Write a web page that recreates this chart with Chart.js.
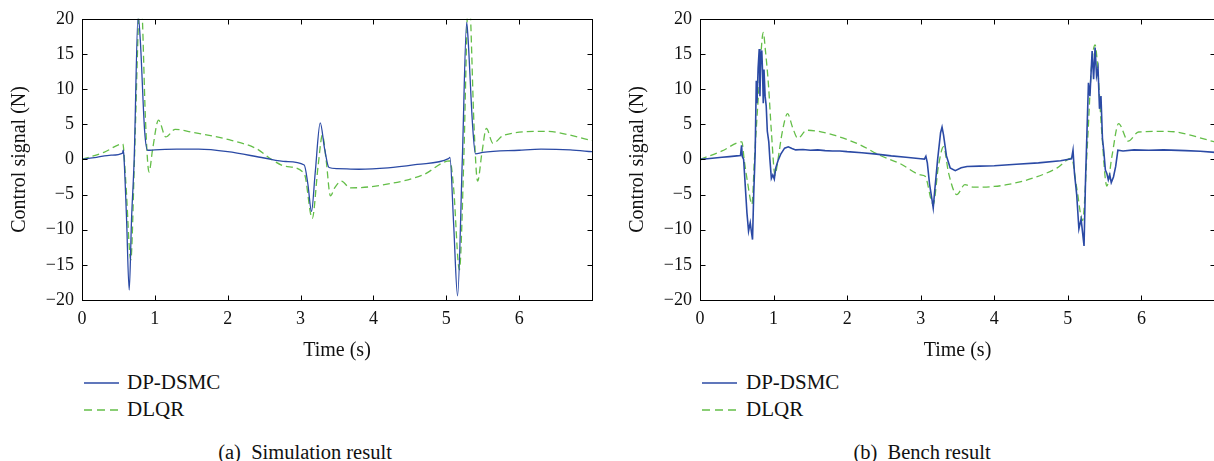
<!DOCTYPE html>
<html><head><meta charset="utf-8">
<script src="https://cdn.jsdelivr.net/npm/chart.js@4.4.1/dist/chart.umd.min.js"></script>
<style>
html,body{margin:0;padding:0;background:#fff;width:1214px;height:461px;overflow:hidden;position:relative;font-family:'Liberation Serif',serif;color:#111}
canvas{position:absolute;top:0}
.leg{position:absolute;font-size:21px;line-height:21px;white-space:pre}
.cap{position:absolute;font-size:20.5px;line-height:20px;white-space:pre;width:400px;text-align:center}
svg{position:absolute;overflow:visible}
</style></head><body>
<canvas id="c1" width="600" height="365" style="left:0px"></canvas>
<canvas id="c2" width="606" height="365" style="left:618px"></canvas>

<svg style="left:84px;top:382px" width="36" height="2"><line x1="0" y1="1" x2="35" y2="1" stroke="#2b4aa5" stroke-width="1.3"/></svg>
<div class="leg" style="left:127px;top:372px">DP-DSMC</div>
<svg style="left:84px;top:409px" width="36" height="2"><line x1="0" y1="1" x2="35" y2="1" stroke="#64be48" stroke-width="1.3" stroke-dasharray="8,5"/></svg>
<div class="leg" style="left:127px;top:399px">DLQR</div>
<div class="cap" style="left:105px;top:442px">(a)  Simulation result</div>

<svg style="left:702px;top:382px" width="36" height="2"><line x1="0" y1="1" x2="35" y2="1" stroke="#2b4aa5" stroke-width="1.3"/></svg>
<div class="leg" style="left:746px;top:372px">DP-DSMC</div>
<svg style="left:702px;top:409px" width="36" height="2"><line x1="0" y1="1" x2="35" y2="1" stroke="#64be48" stroke-width="1.3" stroke-dasharray="8,5"/></svg>
<div class="leg" style="left:746px;top:399px">DLQR</div>
<div class="cap" style="left:722px;top:442px">(b)  Bench result</div>

<script>
// ---- data: [time (s), control signal (N)] ----
const xTicks = [0, 1, 2, 3, 4, 5, 6, 7];
const yTicks = [-20, -15, -10, -5, 0, 5, 10, 15, 20];
const seriesNames = ['DP-DSMC', 'DLQR'];

const simDSMC = [[0,0],[0.2,0.3],[0.4,0.6],[0.557,0.9],[0.565,1.3],[0.575,0.5],[0.61,-8],[0.648,-18.6],[0.68,-8.5],[0.716,0],[0.77,20.5],[0.8,17],[0.86,4],[0.9,1.3],[1.0,1.35],[1.3,1.45],[1.6,1.45],[2.0,1.1],[2.5,0.2],[2.8,-0.3],[3.05,-0.8],[3.1,-3.5],[3.15,-7.4],[3.2,-2],[3.27,5.2],[3.33,1.5],[3.39,-1.15],[3.5,-1.3],[3.8,-1.4],[4.2,-1.2],[4.6,-0.7],[5.03,0.1],[5.05,0.3],[5.1,-9],[5.155,-19.4],[5.22,0],[5.28,19.5],[5.3,17],[5.36,5],[5.40,0.8],[5.5,1.0],[6.0,1.3],[6.3,1.45],[6.7,1.35],[7.0,1.1]];

const simDLQR = [[0,0],[0.3,1.0],[0.56,2.2],[0.6,-3],[0.67,-14.3],[0.72,0],[0.78,21],[0.8,24],[0.825,21],[0.87,6],[0.92,-1.8],[0.97,1.5],[1.05,5.6],[1.15,3.2],[1.28,4.28],[1.5,3.9],[2.05,2.7],[2.4,1.5],[2.6,0],[2.8,-1.0],[3.05,-2.0],[3.16,-8.4],[3.24,-1],[3.3,3.45],[3.35,0],[3.41,-5.2],[3.47,-4.0],[3.56,-3.1],[3.68,-4.05],[4.09,-3.7],[4.68,-2.2],[5.05,-0.2],[5.1,-4],[5.18,-15.7],[5.24,0],[5.29,21],[5.31,24],[5.33,21],[5.38,5],[5.43,-3.1],[5.49,1],[5.55,4.4],[5.64,2.3],[5.79,3.45],[6.35,4.0],[7.0,2.7]];

const benchDSMC = [[0,0],[0.1,0.1],[0.2,0.2],[0.3,0.3],[0.4,0.4],[0.5,0.5],[0.55,0.55],[0.565,2.0],[0.575,0.4],[0.593,0],[0.638,-7.6],[0.66,-10.2],[0.683,-9.0],[0.70,-10.4],[0.714,-11.4],[0.73,-5],[0.75,1],[0.765,11.2],[0.775,8],[0.79,13],[0.805,15.7],[0.815,9],[0.825,14],[0.84,15.5],[0.85,12.5],[0.86,8],[0.87,12.8],[0.885,9],[0.9,7.6],[0.915,4],[0.935,2.5],[0.95,0],[0.97,-2.7],[0.99,-2.2],[1.01,-2.8],[1.03,-1.2],[1.06,-0.2],[1.1,0.8],[1.15,1.6],[1.2,1.8],[1.25,1.55],[1.3,1.35],[1.4,1.4],[1.5,1.3],[1.6,1.35],[1.7,1.25],[1.8,1.2],[1.9,1.2],[2.0,1.1],[2.2,0.95],[2.4,0.75],[2.6,0.5],[2.8,0.3],[3.0,0.1],[3.05,0.05],[3.07,0.45],[3.09,-0.5],[3.12,-3.5],[3.15,-5.5],[3.17,-6.9],[3.19,-4.5],[3.23,0],[3.27,3.8],[3.29,4.6],[3.31,3.5],[3.35,0.5],[3.4,-1.2],[3.47,-1.6],[3.55,-1.2],[3.63,-1.0],[3.8,-0.95],[4.0,-0.9],[4.3,-0.7],[4.6,-0.5],[4.9,-0.2],[5.05,0.07],[5.07,1.3],[5.09,-2],[5.12,-5],[5.15,-9.9],[5.18,-8.5],[5.22,-12.3],[5.24,-3],[5.26,4],[5.28,10.9],[5.3,9],[5.33,15.4],[5.35,11.4],[5.37,15.9],[5.39,11.9],[5.41,13],[5.43,7.2],[5.45,9],[5.47,3],[5.49,1],[5.51,-1.5],[5.53,-2.0],[5.55,-2.9],[5.57,-2.2],[5.59,-3.3],[5.62,-2.5],[5.65,-1],[5.68,1.3],[5.75,1.2],[5.9,1.35],[6.1,1.3],[6.3,1.35],[6.6,1.25],[6.8,1.15],[7.0,1.0]];

const benchDLQR = [[0,0],[0.3,1.2],[0.57,2.5],[0.6,0],[0.65,-3.5],[0.706,-6.4],[0.74,0],[0.8,10],[0.86,18.05],[0.89,15.4],[0.93,10.7],[0.97,4],[1.02,-2.2],[1.06,0],[1.12,4],[1.19,6.5],[1.26,4.5],[1.33,3.0],[1.45,4.15],[1.82,3.45],[2.18,2.05],[2.45,0.55],[2.72,-0.6],[3.0,-2.2],[3.06,-2.4],[3.17,-6.4],[3.24,-1],[3.31,1.8],[3.38,-2],[3.49,-5.0],[3.6,-3.6],[3.72,-3.95],[4.0,-3.85],[4.17,-3.6],[4.53,-2.65],[4.85,-1.24],[5.05,0.17],[5.12,-4],[5.2,-8.7],[5.27,3],[5.32,13],[5.37,16.3],[5.4,13.8],[5.46,4],[5.53,-3.8],[5.6,0.5],[5.69,5.1],[5.82,2.6],[5.96,3.9],[6.35,4.0],[7.0,2.5]];

const BLUE = '#2b4aa5', GREEN = '#64be48';
const FONT = "'Liberation Serif', 'Times New Roman', serif";

const boxTicks = {
  id: 'boxTicks',
  afterDraw(chart) {
    const {ctx, chartArea: a, scales: {x, y}} = chart;
    const L = 5;
    ctx.save();
    ctx.strokeStyle = '#000';
    ctx.lineWidth = 1;
    const l = Math.round(a.left) + 0.5, r = Math.round(a.right) + 0.5,
          t = Math.round(a.top) + 0.5, b = Math.round(a.bottom) + 0.5;
    ctx.strokeRect(l, t, r - l, b - t);
    ctx.beginPath();
    x.ticks.forEach(tk => {
      const px = Math.round(x.getPixelForValue(tk.value)) + 0.5;
      ctx.moveTo(px, b); ctx.lineTo(px, b - L);
      ctx.moveTo(px, t); ctx.lineTo(px, t + L);
    });
    y.ticks.forEach(tk => {
      const py = Math.round(y.getPixelForValue(tk.value)) + 0.5;
      ctx.moveTo(l, py); ctx.lineTo(l + L, py);
      ctx.moveTo(r, py); ctx.lineTo(r - L, py);
    });
    ctx.stroke();
    ctx.restore();
  }
};

function toXY(arr) { return arr.map(p => ({x: p[0], y: p[1]})); }

function makeChart(id, blue, green, blueWidth, padRight, blueSmooth) {
  return new Chart(document.getElementById(id), {
    type: 'line',
    data: {
      datasets: [
        {label: seriesNames[0], data: toXY(blue), borderColor: BLUE, borderWidth: blueWidth, pointRadius: 0,
         cubicInterpolationMode: blueSmooth ? 'monotone' : 'default', tension: 0, fill: false},
        {label: seriesNames[1], data: toXY(green), borderColor: GREEN, borderWidth: 1.3, borderDash: [7, 4], pointRadius: 0,
         cubicInterpolationMode: 'monotone', fill: false}
      ]
    },
    options: {
      responsive: false,
      animation: false,
      devicePixelRatio: 1,
      layout: {padding: {top: 16, right: padRight, left: 0, bottom: 0}},
      plugins: {legend: {display: false}, tooltip: {enabled: false}},
      scales: {
        x: {
          type: 'linear', min: xTicks[0], max: xTicks[xTicks.length - 1],
          afterBuildTicks: s => { s.ticks = xTicks.map(v => ({value: v})); },
          ticks: {
            autoSkip: false, maxRotation: 0, padding: 8, color: '#111',
            font: {family: FONT, size: 18},
            callback: v => (v === xTicks[xTicks.length - 1] ? '' : String(v))
          },
          grid: {display: false, drawTicks: false},
          border: {display: false},
          title: {display: true, text: 'Time (s)', color: '#111', font: {family: FONT, size: 20}, padding: {top: 0, bottom: 2}},
          afterFit: s => { s.height = 65; }
        },
        y: {
          type: 'linear', min: yTicks[0], max: yTicks[yTicks.length - 1],
          afterBuildTicks: s => { s.ticks = yTicks.map(v => ({value: v})); },
          ticks: {
            autoSkip: false, padding: 8, color: '#111',
            font: {family: FONT, size: 18},
            callback: v => (v < 0 ? '\u2212' + Math.abs(v) : String(v))
          },
          grid: {display: false, drawTicks: false},
          border: {display: false},
          title: {display: true, text: 'Control signal (N)', color: '#111', font: {family: FONT, size: 20}, padding: {top: 8, bottom: 0}},
          afterFit: s => { s.width = 82; }
        }
      }
    },
    plugins: [boxTicks]
  });
}

makeChart('c1', simDSMC, simDLQR, 1.3, 2, true);
makeChart('c2', benchDSMC, benchDLQR, 1.6, 9, false);
</script>
</body></html>
